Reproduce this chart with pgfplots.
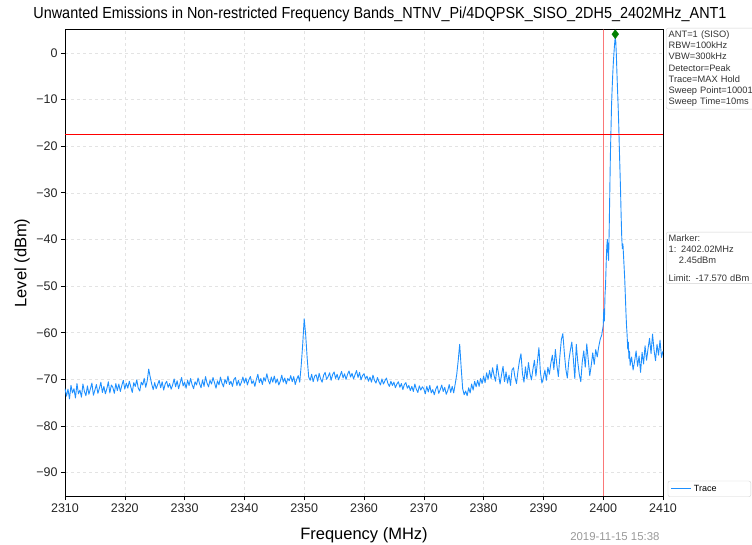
\documentclass[border=0pt]{standalone}
\usepackage{pgfplots}
\pgfplotsset{compat=1.18}
\usepackage{pgfplotstable}
\usepackage{fontspec}
\setmainfont{Liberation Sans}
\definecolor{trace}{RGB}{30,144,255}
\definecolor{mk}{RGB}{0,128,0}
\definecolor{pinkline}{RGB}{250,120,120}

\pgfplotstableread{
f l
2310.00 -72.0
2310.25 -73.6
2310.50 -72.1
2310.75 -74.2
2311.00 -71.3
2311.25 -72.9
2311.50 -72.0
2311.75 -74.0
2312.00 -70.9
2312.25 -73.1
2312.50 -72.3
2312.75 -73.8
2313.00 -71.0
2313.25 -72.6
2313.50 -73.5
2313.75 -71.4
2314.00 -73.2
2314.25 -72.0
2314.50 -70.8
2314.75 -73.4
2315.00 -72.3
2315.25 -71.1
2315.50 -73.0
2315.75 -71.9
2316.00 -70.6
2316.25 -72.8
2316.50 -71.5
2316.75 -73.1
2317.00 -72.0
2317.25 -70.5
2317.50 -72.9
2317.75 -71.2
2318.00 -71.7
2318.25 -73.0
2318.50 -70.9
2318.75 -72.4
2319.00 -71.0
2319.25 -72.6
2319.50 -71.3
2319.75 -70.2
2320.00 -72.1
2320.25 -70.8
2320.50 -71.9
2320.75 -70.4
2321.00 -71.6
2321.25 -72.8
2321.50 -70.7
2321.75 -71.5
2322.00 -70.1
2322.25 -71.9
2322.50 -72.5
2322.75 -70.6
2323.00 -71.2
2323.25 -69.8
2323.50 -71.7
2323.75 -70.3
2324.00 -67.8
2324.25 -69.5
2324.50 -71.0
2324.75 -72.2
2325.00 -70.7
2325.25 -72.0
2325.50 -71.1
2325.75 -70.2
2326.00 -71.8
2326.25 -70.5
2326.50 -72.3
2326.75 -71.0
2327.00 -70.4
2327.25 -71.7
2327.50 -70.9
2327.75 -72.1
2328.00 -71.2
2328.25 -69.9
2328.50 -71.6
2328.75 -70.3
2329.00 -72.0
2329.25 -70.8
2329.50 -69.6
2329.75 -71.4
2330.00 -70.6
2330.25 -71.9
2330.50 -70.2
2330.75 -71.3
2331.00 -69.8
2331.25 -71.1
2331.50 -72.0
2331.75 -70.5
2332.00 -71.2
2332.25 -69.7
2332.50 -70.9
2332.75 -71.8
2333.00 -70.1
2333.25 -71.5
2333.50 -69.4
2333.75 -70.8
2334.00 -71.6
2334.25 -70.2
2334.50 -71.0
2334.75 -69.6
2335.00 -70.7
2335.25 -71.9
2335.50 -70.3
2335.75 -71.2
2336.00 -69.5
2336.25 -70.8
2336.50 -71.6
2336.75 -70.0
2337.00 -70.9
2337.25 -69.3
2337.50 -71.1
2337.75 -70.4
2338.00 -71.5
2338.25 -70.0
2338.50 -69.6
2338.75 -71.3
2339.00 -70.2
2339.25 -71.4
2339.50 -70.6
2339.75 -69.5
2340.00 -70.8
2340.25 -69.7
2340.50 -71.2
2340.75 -70.1
2341.00 -69.4
2341.25 -70.9
2341.50 -70.3
2341.75 -71.5
2342.00 -70.0
2342.25 -68.9
2342.50 -70.7
2342.75 -69.8
2343.00 -71.1
2343.25 -69.6
2343.50 -70.4
2343.75 -68.8
2344.00 -70.2
2344.25 -71.0
2344.50 -69.5
2344.75 -70.6
2345.00 -69.3
2345.25 -70.8
2345.50 -69.9
2345.75 -71.2
2346.00 -70.4
2346.25 -69.1
2346.50 -70.6
2346.75 -69.7
2347.00 -71.0
2347.25 -69.8
2347.50 -70.3
2347.75 -69.2
2348.00 -70.5
2348.25 -69.4
2348.50 -71.1
2348.75 -70.0
2349.00 -69.2
2349.25 -70.6
2349.50 -67.0
2349.75 -62.5
2350.00 -57.0
2350.25 -60.5
2350.50 -65.5
2350.75 -69.5
2351.00 -70.2
2351.25 -68.9
2351.50 -70.5
2351.75 -69.3
2352.00 -69.0
2352.25 -70.4
2352.50 -68.7
2352.75 -69.9
2353.00 -70.6
2353.25 -69.1
2353.50 -68.5
2353.75 -70.0
2354.00 -69.4
2354.25 -68.6
2354.50 -70.2
2354.75 -69.0
2355.00 -68.4
2355.25 -69.8
2355.50 -68.9
2355.75 -70.1
2356.00 -69.2
2356.25 -68.3
2356.50 -69.7
2356.75 -68.8
2357.00 -70.0
2357.25 -68.9
2357.50 -68.2
2357.75 -69.5
2358.00 -68.7
2358.25 -69.9
2358.50 -69.0
2358.75 -68.1
2359.00 -69.6
2359.25 -68.5
2359.50 -70.1
2359.75 -69.2
2360.00 -68.8
2360.25 -69.9
2360.50 -69.3
2360.75 -70.4
2361.00 -69.5
2361.25 -70.6
2361.50 -69.1
2361.75 -70.2
2362.00 -70.8
2362.25 -69.6
2362.50 -70.5
2362.75 -71.2
2363.00 -69.9
2363.25 -71.0
2363.50 -70.3
2363.75 -69.7
2364.00 -70.9
2364.25 -71.5
2364.50 -70.4
2364.75 -71.3
2365.00 -70.6
2365.25 -71.8
2365.50 -71.0
2365.75 -70.5
2366.00 -71.7
2366.25 -70.9
2366.50 -72.2
2366.75 -71.1
2367.00 -70.7
2367.25 -71.9
2367.50 -71.3
2367.75 -72.4
2368.00 -71.5
2368.25 -72.6
2368.50 -71.0
2368.75 -72.1
2369.00 -72.8
2369.25 -71.4
2369.50 -72.3
2369.75 -71.6
2370.00 -72.0
2370.25 -73.1
2370.50 -71.5
2370.75 -72.7
2371.00 -71.3
2371.25 -72.9
2371.50 -72.2
2371.75 -73.3
2372.00 -72.1
2372.25 -71.4
2372.50 -73.0
2372.75 -72.2
2373.00 -71.2
2373.25 -72.6
2373.50 -71.7
2373.75 -73.2
2374.00 -72.4
2374.25 -71.1
2374.50 -72.8
2374.75 -71.5
2375.00 -72.9
2375.25 -71.0
2375.50 -69.0
2375.75 -66.0
2376.00 -62.5
2376.25 -67.5
2376.50 -72.0
2376.75 -73.3
2377.00 -72.5
2377.25 -73.5
2377.50 -71.8
2377.75 -72.9
2378.00 -71.0
2378.25 -72.3
2378.50 -70.4
2378.75 -71.6
2379.00 -70.2
2379.25 -71.5
2379.50 -69.8
2379.75 -70.9
2380.00 -69.3
2380.25 -70.7
2380.50 -68.6
2380.75 -70.0
2381.00 -68.1
2381.25 -69.8
2381.50 -67.5
2381.75 -69.2
2382.00 -70.4
2382.25 -66.8
2382.50 -68.9
2382.75 -71.0
2383.00 -69.0
2383.25 -67.2
2383.50 -70.5
2383.75 -68.4
2384.00 -70.8
2384.25 -69.1
2384.50 -71.3
2384.75 -68.0
2385.00 -67.5
2385.25 -69.6
2385.50 -70.9
2385.75 -68.2
2386.00 -66.0
2386.25 -64.5
2386.50 -68.8
2386.75 -70.6
2387.00 -67.3
2387.25 -69.9
2387.50 -66.4
2387.75 -68.7
2388.00 -70.1
2388.25 -67.8
2388.50 -65.9
2388.75 -69.3
2389.00 -66.2
2389.25 -63.2
2389.50 -68.5
2389.75 -70.8
2390.00 -69.7
2390.25 -68.0
2390.50 -70.2
2390.75 -67.4
2391.00 -68.9
2391.25 -66.5
2391.50 -64.8
2391.75 -67.9
2392.00 -63.6
2392.25 -66.9
2392.50 -69.4
2392.75 -65.1
2393.00 -61.5
2393.25 -60.2
2393.50 -64.3
2393.75 -67.8
2394.00 -69.7
2394.25 -66.0
2394.50 -63.8
2394.75 -62.0
2395.00 -65.5
2395.25 -69.8
2395.50 -62.5
2395.75 -66.3
2396.00 -68.9
2396.25 -70.5
2396.50 -66.2
2396.75 -63.9
2397.00 -67.4
2397.25 -62.4
2397.50 -65.8
2397.75 -69.2
2398.00 -67.0
2398.25 -64.3
2398.50 -66.8
2398.75 -63.6
2399.00 -65.2
2399.25 -63.0
2399.50 -61.4
2399.75 -60.5
2400.00 -58.5
2400.10 -55.0
2400.20 -57.5
2400.30 -52.0
2400.40 -49.5
2400.50 -45.0
2400.60 -41.5
2400.70 -40.0
2400.80 -43.0
2400.90 -44.5
2401.00 -38.0
2401.10 -30.0
2401.20 -22.0
2401.30 -16.5
2401.40 -11.0
2401.50 -7.5
2401.60 -4.5
2401.70 -2.0
2401.80 0.0
2401.90 1.8
2402.00 3.2
2402.10 2.5
2402.20 -0.5
2402.30 -4.5
2402.40 -8.0
2402.50 -11.5
2402.60 -15.5
2402.70 -20.5
2402.80 -25.0
2402.90 -29.5
2403.00 -35.0
2403.10 -39.5
2403.20 -42.0
2403.30 -41.0
2403.40 -43.5
2403.50 -46.0
2403.60 -48.5
2403.70 -52.0
2403.80 -55.5
2403.90 -58.5
2404.00 -60.5
2404.10 -63.5
2404.20 -62.0
2404.30 -65.5
2404.40 -64.0
2404.50 -67.0
2404.75 -65.2
2405.00 -68.0
2405.25 -66.1
2405.50 -63.9
2405.75 -67.2
2406.00 -65.0
2406.25 -68.5
2406.50 -64.2
2406.75 -66.7
2407.00 -62.8
2407.25 -65.9
2407.50 -63.4
2407.75 -61.2
2408.00 -64.5
2408.25 -60.3
2408.50 -63.7
2408.75 -66.0
2409.00 -62.5
2409.25 -64.8
2409.50 -61.6
2409.75 -65.3
2410.00 -63.9
}\trace

\begin{document}
\begin{tikzpicture}
\path[use as bounding box] (-65pt,-48pt) rectangle (687pt,496pt);
\begin{axis}[
  at={(0,0)}, anchor=south west,
  scale only axis, width=598pt, height=466.5pt,
  xmin=2310, xmax=2410, ymin=-95, ymax=5,
  xtick={2310,2320,...,2390,2410},
  ytick={-90,-80,...,0},
  yticklabels={−90,−80,−70,−60,−50,−40,−30,−20,−10,0},
  extra x ticks={2400},
  extra x tick style={grid=none},
  xticklabel={\pgfmathprintnumber[fixed,1000 sep={},assume math mode=true]{\tick}},
  tick label style={font=\fontsize{12.5}{14}\selectfont, text=black!85},
  tick align=outside, xtick pos=bottom, ytick pos=left,
  major tick length=4pt,
  tick style={black, line width=0.6pt},
  axis line style={black, line width=0.8pt},
  grid=major,
  grid style={dashed, gray!22, line width=0.5pt},
  legend style={at={(1.008,-0.002)}, anchor=south west,
    font=\fontsize{9}{11}\selectfont, draw=gray!35, rounded corners=2pt,
    inner xsep=3pt, inner ysep=2pt, text width=52pt},
  legend image code/.code={\draw[#1] (0pt,0pt) -- (20pt,0pt);},
  clip=true,
]
\addplot[draw=pinkline, line width=1.2pt, forget plot] coordinates {(2400,-95) (2400,5)};
\addplot[trace, line width=0.9pt, line join=round] table[x=f,y=l]{\trace};
\addlegendentry{Trace}
\addplot[red, line width=0.9pt, forget plot] coordinates {(2310,-17.57) (2410,-17.57)};
\addplot[only marks, mark=diamond*, mark size=4.5pt, mk, forget plot, clip mode=individual] coordinates {(2402.02,4.0)};
\draw[black, line width=0.8pt] (axis cs:2402.02,5) -- ++(0,9pt);
\end{axis}
\node at (315pt,482pt) {\scalebox{0.9}[1]{\fontsize{16}{18}\selectfont Unwanted Emissions in Non-restricted Frequency Bands\_NTNV\_Pi/4DQPSK\_SISO\_2DH5\_2402MHz\_ANT1}};
\node[anchor=north west, draw=gray!35, rounded corners=2pt, align=left, inner sep=2.5pt,
  text width=90pt, font=\fontsize{9.3}{11.2}\selectfont, text=black!80] at (601pt,468pt)
  {ANT=1 (SISO)\\RBW=100kHz\\VBW=300kHz\\Detector=Peak\\Trace=MAX Hold\\Sweep Point=10001\\Sweep Time=10ms};
\node[anchor=north west, draw=gray!35, rounded corners=2pt, align=left, inner sep=2.5pt,
  text width=90pt, font=\fontsize{9.3}{11.2}\selectfont, text=black!80] at (601pt,264pt)
  {Marker:\\1: 2402.02MHz\\\hspace*{1.1em}2.45dBm\\[6pt]Limit: -17.570 dBm};
\node at (299pt,-39pt) {\fontsize{16.5}{18}\selectfont Frequency (MHz)};
\node[rotate=90] at (-43pt,233pt) {\fontsize{16.5}{18}\selectfont Level (dBm)};
\node[anchor=east, text=gray!80] at (598pt,-41pt) {\fontsize{11.4}{13}\selectfont 2019-11-15 15:38};
\end{tikzpicture}
\end{document}
